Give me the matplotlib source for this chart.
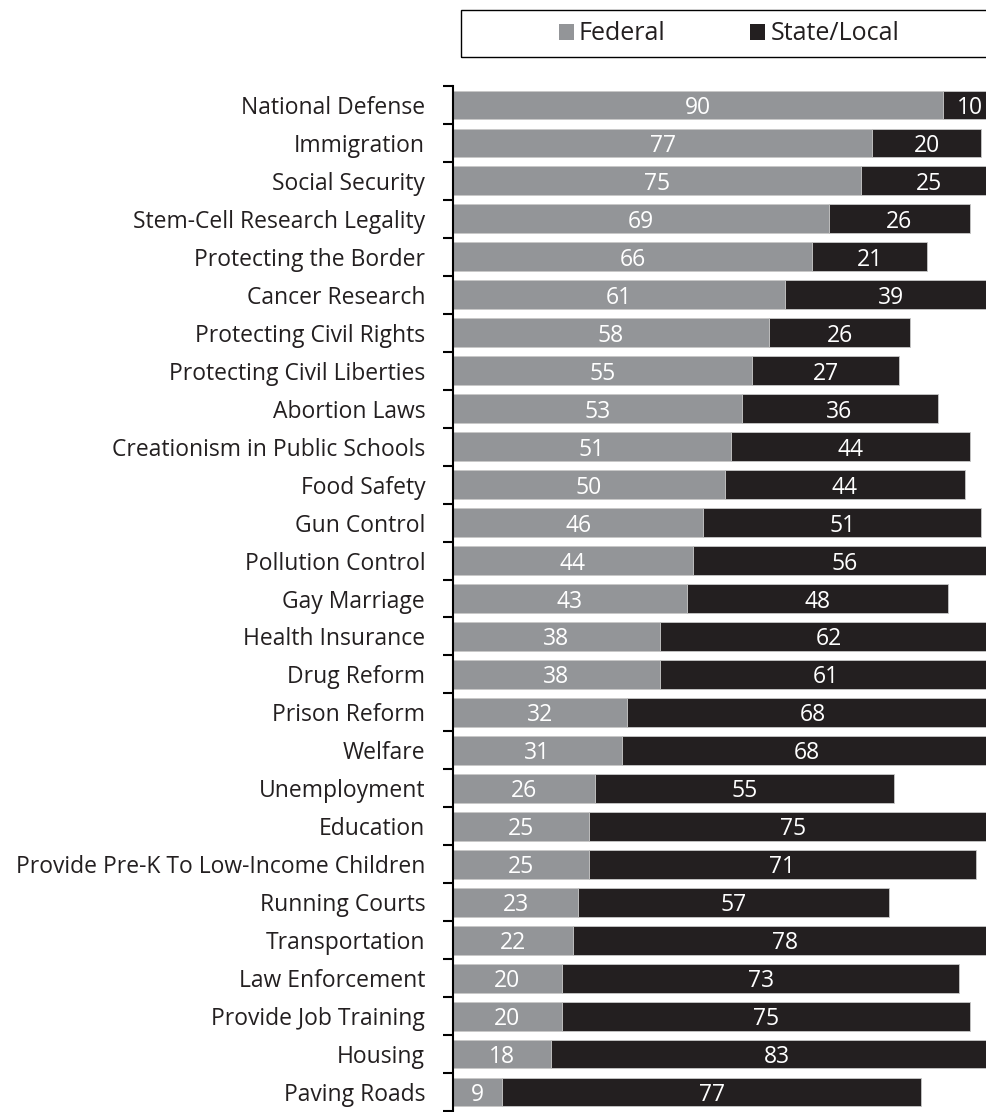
import numpy as np
import matplotlib.pyplot as plt
from matplotlib.patches import Rectangle
from matplotlib.ticker import FixedLocator

plt.rcParams['font.family'] = ['Open Sans', 'DejaVu Sans']

categories = ["National Defense", "Immigration", "Social Security",
              "Stem-Cell Research Legality", "Protecting the Border",
              "Cancer Research", "Protecting Civil Rights",
              "Protecting Civil Liberties", "Abortion Laws",
              "Creationism in Public Schools", "Food Safety", "Gun Control",
              "Pollution Control", "Gay Marriage", "Health Insurance",
              "Drug Reform", "Prison Reform", "Welfare", "Unemployment",
              "Education", "Provide Pre-K To Low-Income Children",
              "Running Courts", "Transportation", "Law Enforcement",
              "Provide Job Training", "Housing", "Paving Roads"]
federal = [90, 77, 75, 69, 66, 61, 58, 55, 53, 51, 50, 46, 44, 43, 38, 38,
           32, 31, 26, 25, 25, 23, 22, 20, 20, 18, 9]
state_local = [10, 20, 25, 26, 21, 39, 26, 27, 36, 44, 44, 51, 56, 48, 62, 61,
               68, 68, 55, 75, 71, 57, 78, 73, 75, 83, 77]

gray = '#939598'
black = '#231f20'
fs = 16.5

fig = plt.figure(figsize=(9.86, 11.12), dpi=100)
ax = fig.add_axes([453/986, 1-1111/1112, 1-453/986, (1111-86)/1112])

y = np.arange(len(categories))
h = 0.76
b1 = ax.barh(y, federal, height=h, color=gray, edgecolor='#c8c8c8', linewidth=0.6, label='Federal')
b2 = ax.barh(y, state_local, left=federal, height=h, color=black, edgecolor='#c8c8c8', linewidth=0.6, label='State/Local')

for i in range(len(categories)):
    ax.text(federal[i]/2, y[i], str(federal[i]), color='white', ha='center', va='center_baseline', fontsize=fs)
    ax.text(federal[i] + state_local[i]/2, y[i], str(state_local[i]), color='white', ha='center', va='center_baseline', fontsize=fs)

ax.set_xlim(0, 97.9)
ax.set_ylim(len(categories)-0.5, -0.5)
ax.set_yticks(y)
ax.set_yticklabels(categories, fontsize=fs, color=black)
ax.tick_params(axis='y', which='major', length=0, pad=20)
ax.yaxis.set_minor_locator(FixedLocator(np.arange(-0.5, len(categories), 1)))
ax.tick_params(axis='y', which='minor', length=7, width=1.5, color='black')
ax.set_xticks([])
for s in ['top', 'right', 'bottom']:
    ax.spines[s].set_visible(False)
ax.spines['left'].set_linewidth(1.5)

# legend box
fig.patches.append(Rectangle((461/986, 1-57/1112), (998-461)/986, 47/1112,
                             transform=fig.transFigure, fill=False,
                             edgecolor='black', linewidth=1))
leg = fig.legend(handles=[b1, b2], loc='center', bbox_to_anchor=(729/986, 1-34/1112),
                 ncol=2, frameon=False, fontsize=18, handlelength=0.6, handleheight=0.6,
                 handletextpad=0.2, columnspacing=3.4)
for t in leg.get_texts():
    t.set_color(black)
for p in leg.legend_handles:
    p.set_edgecolor('none')

fig.savefig('out.png', dpi=100)
